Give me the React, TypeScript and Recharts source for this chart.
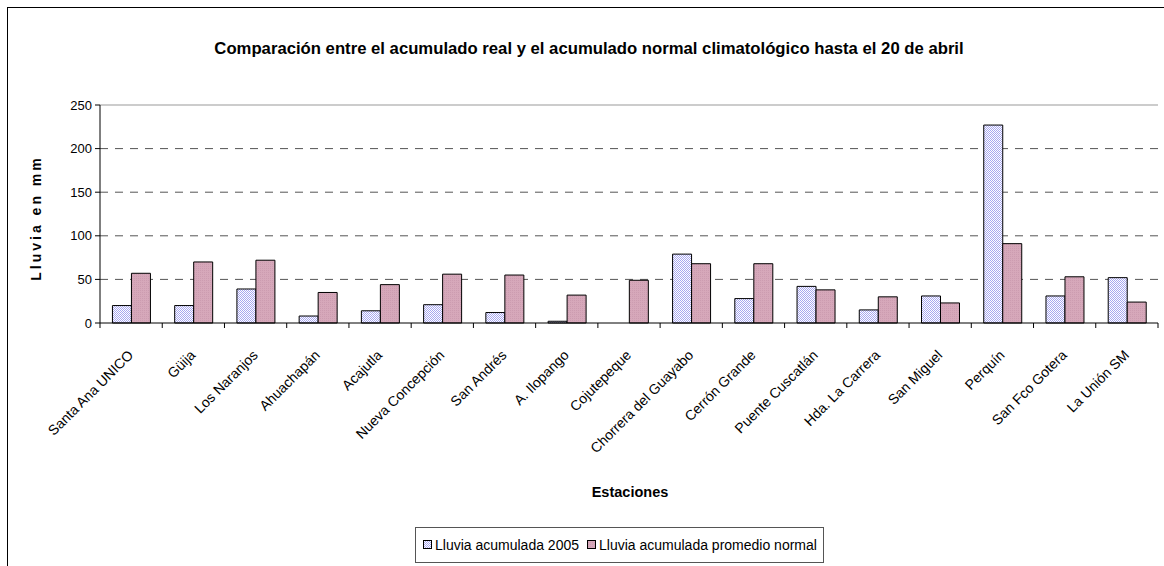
import React from 'react'
import { BarChart, Bar, XAxis, YAxis, CartesianGrid, ReferenceLine } from 'recharts'

const STATIONS = [
  'Santa Ana UNICO', 'Güija', 'Los Naranjos', 'Ahuachapán', 'Acajutla',
  'Nueva Concepción', 'San Andrés', 'A. Ilopango', 'Cojutepeque', 'Chorrera del Guayabo',
  'Cerrón Grande', 'Puente Cuscatlán', 'Hda. La Carrera', 'San Miguel', 'Perquín',
  'San Fco Gotera', 'La Unión SM',
]
const LLUVIA_2005   = [20, 20, 39, 8, 14, 21, 12, 2, 0, 79, 28, 42, 15, 31, 227, 31, 52]
const LLUVIA_NORMAL = [57, 70, 72, 35, 44, 56, 55, 32, 49, 68, 68, 38, 30, 23, 91, 53, 24]
const Y_TICKS = [0, 50, 100, 150, 200, 250]
const GRID_VALUES = [50, 100, 150, 200]

const SERIES_2005   = 'Lluvia acumulada 2005'
const SERIES_NORMAL = 'Lluvia acumulada promedio normal'

const data = STATIONS.map((s, i) => ({ station: s, real: LLUVIA_2005[i], normal: LLUVIA_NORMAL[i] }))

const FONT = "'Liberation Sans', Arial, sans-serif"
const W = 1164
const H = 566
const PLOT_LEFT = 100
const PLOT_RIGHT = 1158
const BAND = (PLOT_RIGHT - PLOT_LEFT) / STATIONS.length

function StationTick(props: any) {
  const { x, y, payload, index } = props
  const left = x - BAND / 2
  return (
    <g>
      <line x1={left} y1={y} x2={left} y2={y + 5} stroke="#000" />
      {index === STATIONS.length - 1 && (
        <line x1={x + BAND / 2} y1={y} x2={x + BAND / 2} y2={y + 5} stroke="#000" />
      )}
      <g transform={`translate(${x + 3},${y + 33}) rotate(-45)`}>
        <text x={0} y={0} textAnchor="end" fontFamily={FONT} fontSize={14} fill="#000">
          {payload.value}
        </text>
      </g>
    </g>
  )
}

export default function App() {
  return (
    <div style={{ position: 'absolute', left: 0, top: 0, width: W, height: H, background: '#fff' }}>
      <svg width={0} height={0} style={{ position: 'absolute' }}>
        <defs>
          <pattern id="pat2005" width={2} height={2} patternUnits="userSpaceOnUse">
            <rect width={2} height={2} fill="#ffffff" />
            <rect x={0} y={0} width={1} height={1} fill="#a8a8f0" />
            <rect x={1} y={1} width={1} height={1} fill="#a8a8f0" />
          </pattern>
          <pattern id="patNormal" width={2} height={2} patternUnits="userSpaceOnUse">
            <rect width={2} height={2} fill="#d6a8ba" />
            <rect x={0} y={0} width={1} height={1} fill="#cc9cb0" />
          </pattern>
        </defs>
      </svg>

      <BarChart
        width={W}
        height={H}
        data={data}
        margin={{ top: 105, right: 6, left: 40, bottom: 0 }}
        barCategoryGap="20%"
        barGap={0}
      >
        <CartesianGrid vertical={false} horizontalValues={GRID_VALUES} stroke="#555" strokeDasharray="8 7" />
        <XAxis
          dataKey="station"
          height={243}
          interval={0}
          tickLine={false}
          tickSize={0}
          tickMargin={0}
          axisLine={{ stroke: '#000' }}
          tick={<StationTick />}
        />
        <YAxis
          domain={[0, 250]}
          ticks={Y_TICKS}
          width={60}
          tickSize={5}
          tickMargin={3}
          axisLine={{ stroke: '#000' }}
          tickLine={{ stroke: '#000' }}
          tick={{ fontFamily: FONT, fontSize: 13, fill: '#000' }}
        />
        <YAxis
          yAxisId="right"
          orientation="right"
          domain={[0, 250]}
          width={0}
          tick={false}
          tickLine={false}
          axisLine={{ stroke: '#999' }}
        />
        <ReferenceLine y={250} stroke="#999" />
        <Bar dataKey="real" name={SERIES_2005} fill="url(#pat2005)" stroke="#000" strokeWidth={1} isAnimationActive={false} />
        <Bar dataKey="normal" name={SERIES_NORMAL} fill="url(#patNormal)" stroke="#000" strokeWidth={1} isAnimationActive={false} />
      </BarChart>

      <svg width={W} height={H} style={{ position: 'absolute', left: 0, top: 0, pointerEvents: 'none' }}>
        <rect x={7.5} y={7.5} width={1170} height={580} fill="none" stroke="#000" />
        <text x={589} y={54} textAnchor="middle" fontFamily={FONT} fontSize={16.7} fontWeight="bold" fill="#000">
          Comparación entre el acumulado real y el acumulado normal climatológico hasta el 20 de abril
        </text>
        <text
          transform="translate(41,218) rotate(-90)"
          textAnchor="middle"
          fontFamily={FONT}
          fontSize={14}
          fontWeight="bold"
          letterSpacing={3}
          fill="#000"
        >
          Lluvia en mm
        </text>
        <text x={630} y={497} textAnchor="middle" fontFamily={FONT} fontSize={14.5} fontWeight="bold" fill="#000">
          Estaciones
        </text>
        <rect x={415.5} y={527.5} width={408} height={35} fill="#fff" stroke="#555" />
        <rect x={423.5} y={540.5} width={8} height={8} fill="url(#pat2005)" stroke="#000" />
        <text x={435} y={550} fontFamily={FONT} fontSize={14} fill="#000">{SERIES_2005}</text>
        <rect x={587.5} y={540.5} width={8} height={8} fill="url(#patNormal)" stroke="#000" />
        <text x={599} y={550} fontFamily={FONT} fontSize={14} fill="#000">{SERIES_NORMAL}</text>
      </svg>
    </div>
  )
}
